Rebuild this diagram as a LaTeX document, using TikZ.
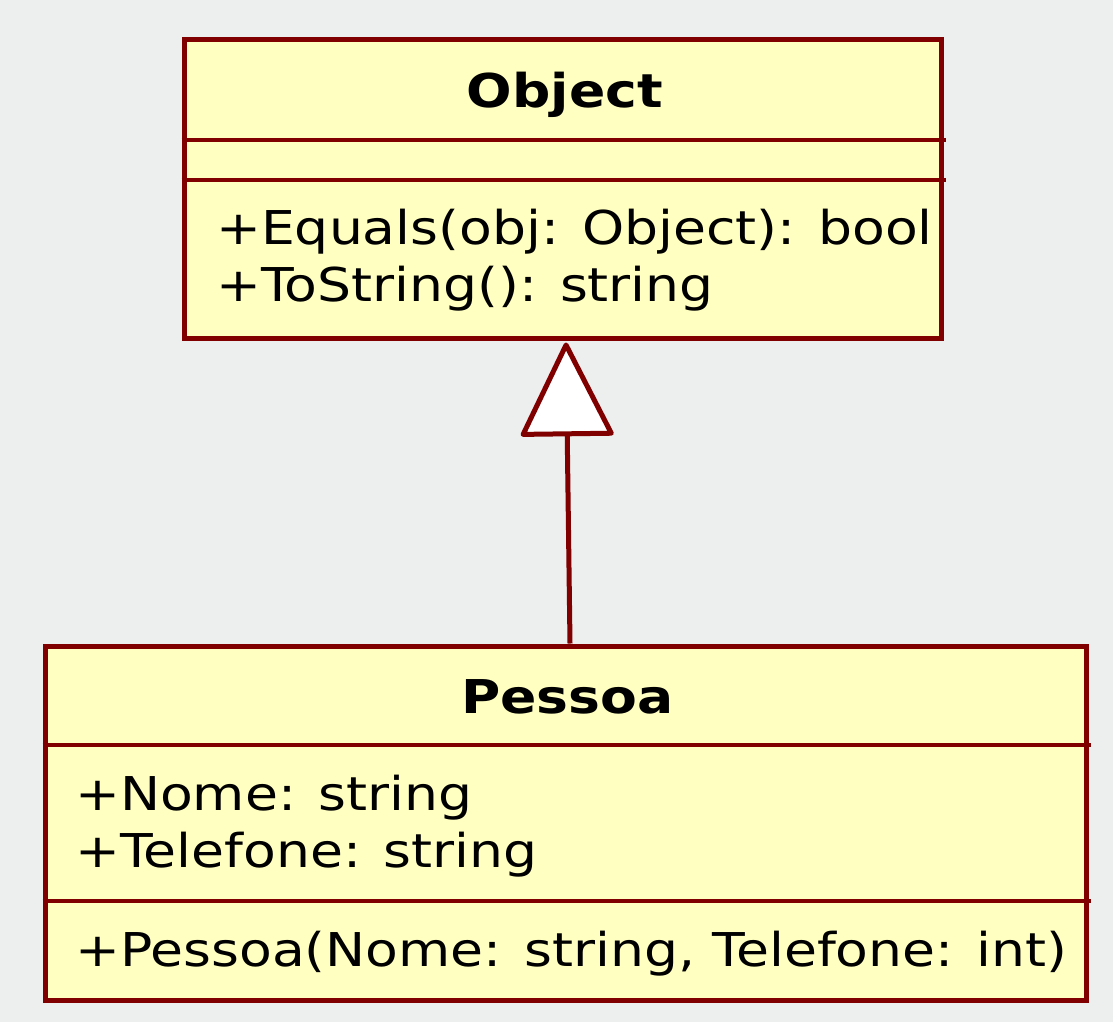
\documentclass[tikz,border=0pt]{standalone}
\usepackage{fontspec}
\setmainfont{DejaVu Sans}[FakeStretch=1.15]
\usetikzlibrary{arrows.meta}
\definecolor{bgc}{RGB}{237,238,238}
\definecolor{umlred}{RGB}{128,0,0}
\definecolor{umlfill}{RGB}{255,255,194}
\tikzset{
  classbox/.style={draw=umlred, fill=umlfill, line width=5pt, inner sep=0pt, rectangle},
  sepline/.style={draw=umlred, line width=4.5pt},
  umltext/.style={anchor=base west, inner sep=0pt, font=\fontsize{46.6}{57}\selectfont},
  umltitle/.style={anchor=base, inner sep=0pt, font=\fontsize{46.6}{57}\selectfont\bfseries},
  genline/.style={draw=umlred, line width=5pt, line join=round,
    -{Triangle[length=97pt, width=95pt, fill=white, line join=round]}}
}
\begin{document}
\begin{tikzpicture}[x=1pt,y=-1pt]
\useasboundingbox (0,0) rectangle (1113,1022);
\fill[bgc] (0,0) rectangle (1113,1022);
% Object class
\node[classbox, minimum width=757pt, minimum height=298pt] (obj) at (562.5,189) {};
\draw[sepline] (obj.west |- 0,140) -- (946,140);
\draw[sepline] (obj.west |- 0,180) -- (946,180);
\node[umltitle] (objtitle) at (565,108) {Object};
\node[umltext] (objm1) at (216,244) {+Equals(obj: Object): bool};
\node[umltext] (objm2) at (216,301) {+ToString(): string};
% Pessoa class
\node[classbox, minimum width=1041pt, minimum height=354pt] (pes) at (565.5,823) {};
\draw[sepline] (pes.west |- 0,745) -- (1091,745);
\draw[sepline] (pes.west |- 0,901) -- (1091,901);
\node[umltitle] (pestitle) at (567.5,713) {Pessoa};
\node[umltext] (pesa1) at (75,810) {+Nome: string};
\node[umltext] (pesa2) at (75,867) {+Telefone: string};
\node[umltext] (pesm1) at (75,966) {+Pessoa(Nome: string, Telefone: int)};
% generalization
\path (pes.north) ++(4.5,0) coordinate (genstart);
\path (obj.south) ++(3.5,2) coordinate (genend);
\draw[genline] (genstart) -- (genend);
\end{tikzpicture}
\end{document}
